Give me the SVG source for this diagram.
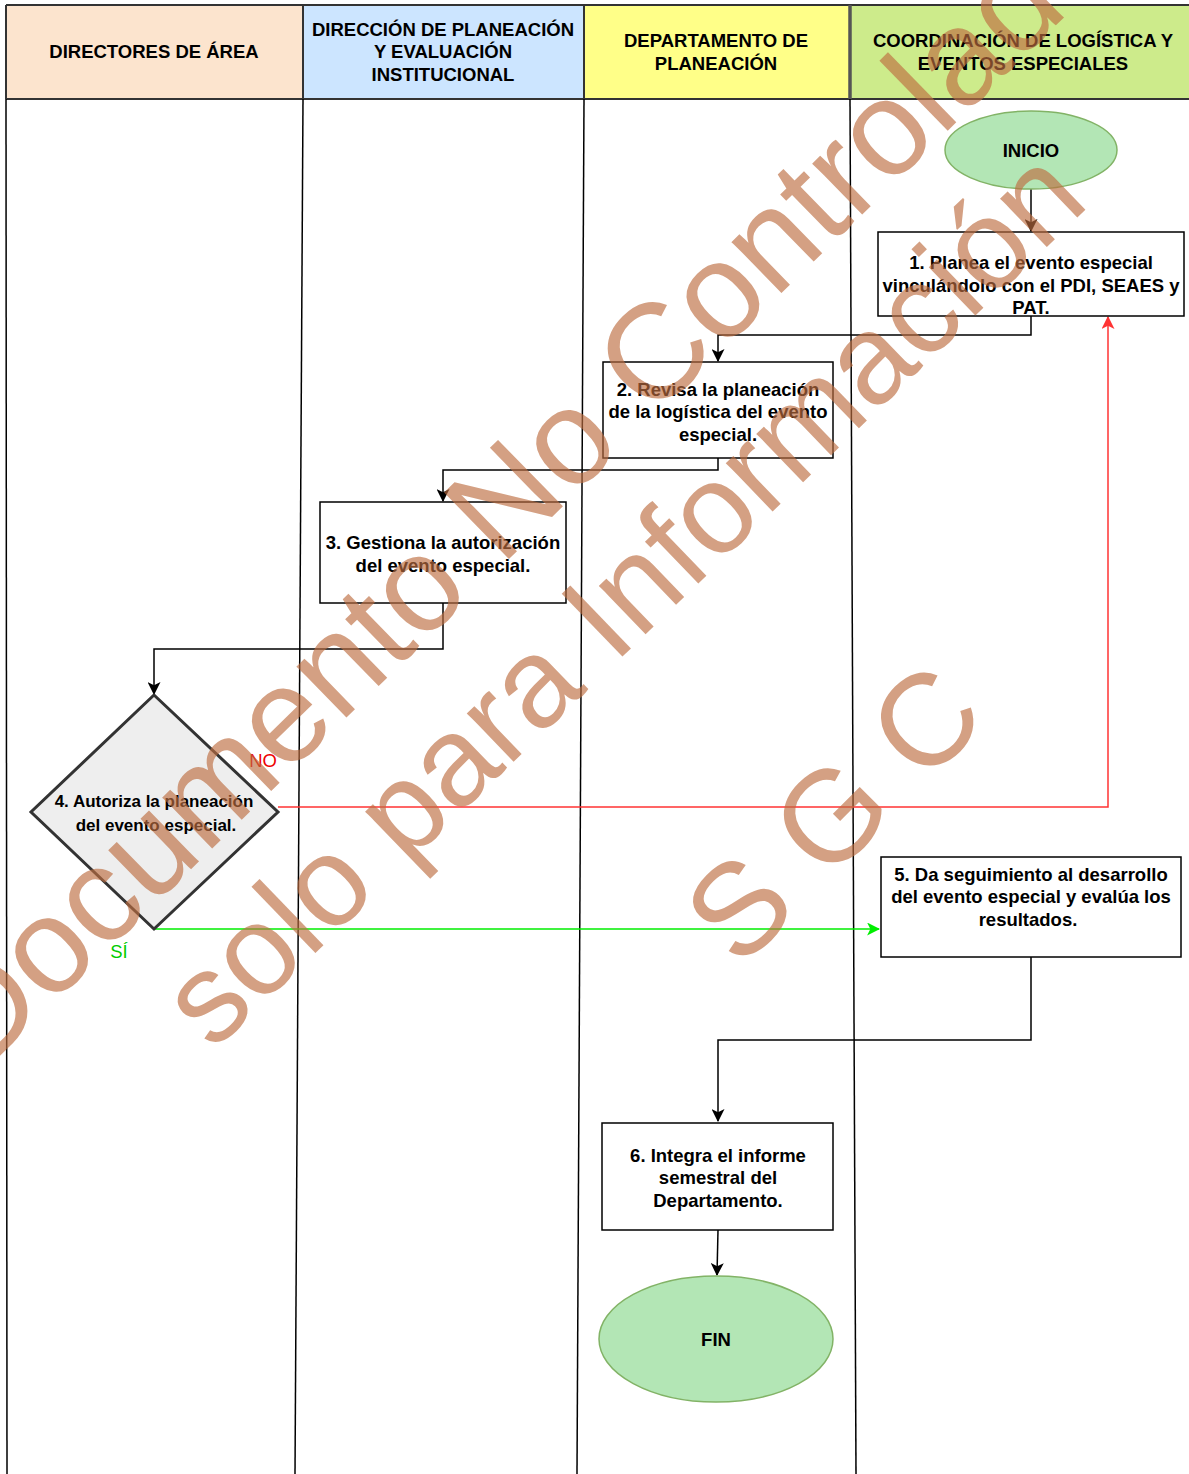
<svg xmlns="http://www.w3.org/2000/svg" width="1189" height="1474" viewBox="0 0 1189 1474">
<defs>
<marker id="ab" viewBox="0 0 12 12" refX="11" refY="6" markerWidth="13" markerHeight="13" markerUnits="userSpaceOnUse" orient="auto"><path d="M0,0 L12,6 L0,12 L3,6 Z" fill="#000"/></marker>
<marker id="ar" viewBox="0 0 12 12" refX="11" refY="6" markerWidth="13" markerHeight="13" markerUnits="userSpaceOnUse" orient="auto"><path d="M0,0 L12,6 L0,12 L3,6 Z" fill="#ff3333"/></marker>
<marker id="ag" viewBox="0 0 12 12" refX="11" refY="6" markerWidth="13" markerHeight="13" markerUnits="userSpaceOnUse" orient="auto"><path d="M0,0 L12,6 L0,12 L3,6 Z" fill="#00ee00"/></marker>
</defs>
<style>
.t{font-family:"Liberation Sans",Arial,sans-serif;font-weight:bold;font-size:18.5px;fill:#000;text-anchor:middle}
.d{font-size:17px}
.box{fill:#fff;stroke:#000;stroke-width:1.5}
.ell{fill:#b3e6b5;stroke:#82b366;stroke-width:1.5}
.lane{stroke:#000;stroke-width:1.5;fill:none}
.c{fill:none;stroke:#000;stroke-width:1.5}
.wm{font-family:"Liberation Sans",Arial,sans-serif;font-size:135px;fill:#be6e41;opacity:0.65;text-anchor:middle}
</style>
<rect width="1189" height="1474" fill="#fff"/>
<g id="header">
<rect x="6" y="5" width="297" height="94" fill="#fce4ce"/>
<rect x="303" y="5" width="281" height="94" fill="#cce5ff"/>
<rect x="584" y="5" width="266" height="94" fill="#ffff88"/>
<rect x="850" y="5" width="339" height="94" fill="#cdeb8b"/>
<path d="M6,5 H1189 M6,99 H1189 M6,5 V99 M303,5 V99 M584,5 V99" stroke="#333" stroke-width="2" fill="none"/>
<path d="M850,5 V99" stroke="#555" stroke-width="3.5" fill="none"/>
<text class="t" x="154" y="57.5">DIRECTORES DE ÁREA</text>
<text class="t" x="443" y="35.5">DIRECCIÓN DE PLANEACIÓN</text>
<text class="t" x="443" y="57.5">Y EVALUACIÓN</text>
<text class="t" x="443" y="80.5">INSTITUCIONAL</text>
<text class="t" x="716" y="46.5">DEPARTAMENTO DE</text>
<text class="t" x="716" y="69.5">PLANEACIÓN</text>
<text class="t" x="1023" y="46.5">COORDINACIÓN DE LOGÍSTICA Y</text>
<text class="t" x="1023" y="69.5">EVENTOS ESPECIALES</text>
</g>
<g id="lanes">
<path class="lane" d="M6,99 L7,1474"/>
<path class="lane" d="M303,99 L295,1474"/>
<path class="lane" d="M584,99 L577,1474"/>
<path class="lane" d="M850,99 L856,1474"/>
</g>
<g id="connectors">
<path class="c" d="M1031,189 V231" marker-end="url(#ab)"/>
<path class="c" d="M1031,316 V335 H718 V361" marker-end="url(#ab)"/>
<path class="c" d="M718,458 V470 H443 V501" marker-end="url(#ab)"/>
<path class="c" d="M443,603 V649 H154 V694" marker-end="url(#ab)"/>
<path d="M278,807 H1108 V317" fill="none" stroke="#ff3333" stroke-width="1.5" marker-end="url(#ar)"/>
<path d="M154,929 H879" fill="none" stroke="#00ee00" stroke-width="1.5" marker-end="url(#ag)"/>
<path class="c" d="M1031,957 V1040 H718 V1121" marker-end="url(#ab)"/>
<path class="c" d="M718,1230 L717,1275" marker-end="url(#ab)"/>
<text x="263" y="766.5" style="font-family:'Liberation Sans',Arial,sans-serif;font-size:18.5px;fill:#ee0000;text-anchor:middle">NO</text>
<text x="119" y="957.5" style="font-family:'Liberation Sans',Arial,sans-serif;font-size:18.5px;fill:#00cc00;text-anchor:middle">SÍ</text>
</g>
<g id="inicio">
<ellipse class="ell" cx="1031" cy="150" rx="86" ry="39"/>
<text class="t" x="1031" y="156.5">INICIO</text>
</g>
<g id="n1">
<rect class="box" x="878" y="232" width="306" height="84"/>
<text class="t" x="1031" y="268.5">1. Planea el evento especial</text>
<text class="t" x="1031" y="291.5">vinculándolo con el PDI, SEAES y</text>
<text class="t" x="1031" y="313.5">PAT.</text>
</g>
<g id="n2">
<rect class="box" x="603" y="362" width="230" height="96"/>
<text class="t" x="718" y="395.5">2. Revisa la planeación</text>
<text class="t" x="718" y="417.5">de la logística del evento</text>
<text class="t" x="718" y="440.5">especial.</text>
</g>
<g id="n3">
<rect class="box" x="320" y="502" width="246" height="101"/>
<text class="t" x="443" y="548.5">3. Gestiona la autorización</text>
<text class="t" x="443" y="571.5">del evento especial.</text>
</g>
<g id="n4">
<path d="M154,695 L278,812 L154,929 L31,812 Z" fill="#eeeeee" stroke="#333" stroke-width="3"/>
<text class="t d" x="154" y="807">4. Autoriza la planeación</text>
<text class="t d" x="156" y="831">del evento especial.</text>
</g>
<g id="n5">
<rect class="box" x="881" y="857" width="300" height="100"/>
<text class="t" x="1031" y="880.5">5. Da seguimiento al desarrollo</text>
<text class="t" x="1031" y="902.5">del evento especial y evalúa los</text>
<text class="t" x="1028" y="925.5">resultados.</text>
</g>
<g id="n6">
<rect class="box" x="602" y="1123" width="231" height="107"/>
<text class="t" x="718" y="1161.5">6. Integra el informe</text>
<text class="t" x="718" y="1183.5">semestral del</text>
<text class="t" x="718" y="1206.5">Departamento.</text>
</g>
<g id="fin">
<ellipse class="ell" cx="716" cy="1339" rx="117" ry="63"/>
<text class="t" x="716" y="1345.5">FIN</text>
</g>
<g id="watermark">
<text class="wm" transform="translate(552,517) rotate(-44.3)">Documento No Controlado</text>
<text class="wm" style="font-size:127px" transform="translate(652,628) rotate(-44)">solo para Información</text>
<text class="wm" style="font-size:130px" transform="translate(865,845) rotate(-45)">S G C</text>
</g>
</svg>
